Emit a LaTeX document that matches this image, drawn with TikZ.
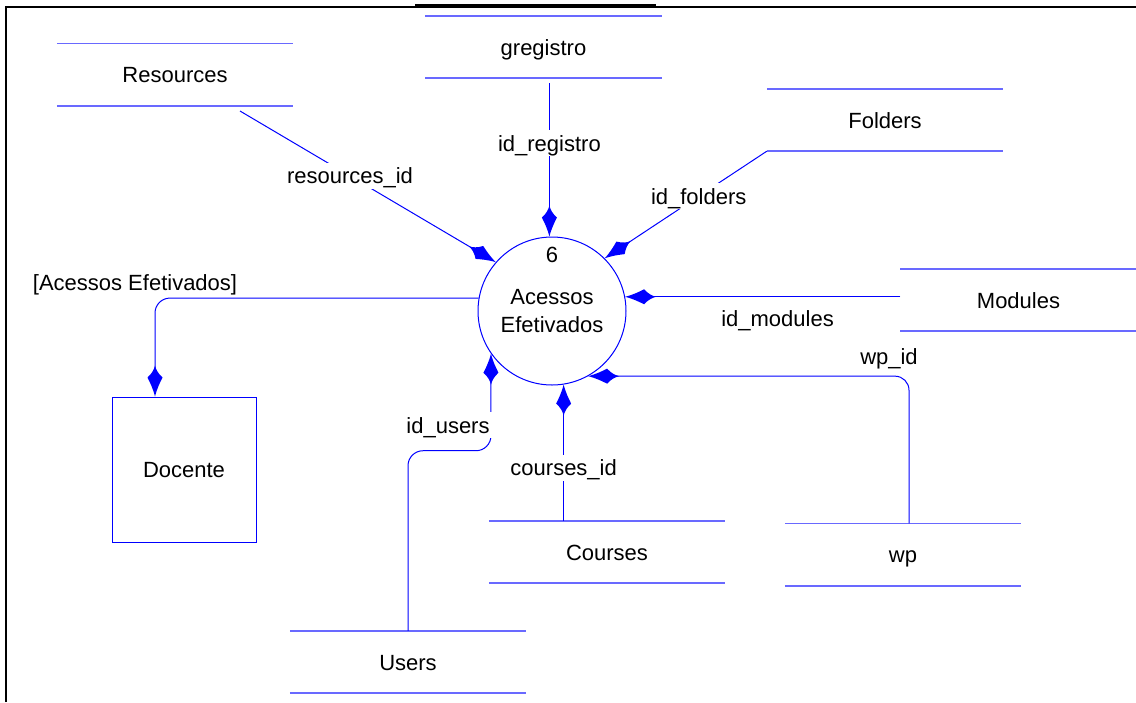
\documentclass[tikz,border=0pt]{standalone}
\usepackage{fontspec}
\setmainfont{Liberation Sans}
\usetikzlibrary{arrows.meta}
\definecolor{flowblue}{RGB}{0,0,255}
\definecolor{storeblue}{RGB}{105,105,255}

% barbed arrow head with concave sides, widest a third of the way from the back
\pgfdeclarearrow{
  name=Barb,
  setup code={
    \pgfarrowssettipend{0pt}
    \pgfarrowssetbackend{-31pt}
    \pgfarrowssetlineend{-18pt}
    \pgfarrowshullpoint{0pt}{0pt}
    \pgfarrowshullpoint{-31pt}{0pt}
    \pgfarrowsupperhullpoint{-19pt}{7.5pt}
  },
  drawing code={
    \pgfpathmoveto{\pgfpoint{0pt}{0pt}}
    \pgfpathcurveto{\pgfpoint{-8pt}{2pt}}{\pgfpoint{-14pt}{5pt}}{\pgfpoint{-19pt}{7.5pt}}
    \pgfpathcurveto{\pgfpoint{-23pt}{3pt}}{\pgfpoint{-27pt}{1pt}}{\pgfpoint{-31pt}{0pt}}
    \pgfpathcurveto{\pgfpoint{-27pt}{-1pt}}{\pgfpoint{-23pt}{-3pt}}{\pgfpoint{-19pt}{-7.5pt}}
    \pgfpathcurveto{\pgfpoint{-14pt}{-5pt}}{\pgfpoint{-8pt}{-2pt}}{\pgfpoint{0pt}{0pt}}
    \pgfpathclose
    \pgfusepathqfill
  },
  defaults={}
}

\begin{document}
\begin{tikzpicture}[x=1pt,y=-1pt,
  every node/.style={font=\fontsize{22}{28}\selectfont, text=black, inner sep=1pt},
  txt/.style={text height=16pt, text depth=0pt},
  store/.style={txt, minimum width=236pt, minimum height=62pt, inner sep=0pt},
  storeline/.style={draw=storeblue, line width=1.6pt},
  flow/.style={draw=flowblue, line width=1pt, -{Barb}},
  tag/.style={txt, fill=white, inner xsep=2pt, inner ysep=5pt},
  proc/.style={circle, draw=flowblue, line width=1pt, minimum size=148pt, inner sep=0pt, align=center},
  ent/.style={txt, rectangle, draw=flowblue, line width=1pt, minimum width=144pt, minimum height=145pt}]
\useasboundingbox (0,0) rectangle (1136,702);

% page frame
\draw[line width=2pt] (6,702) -- (6,7) -- (1136,7);
\draw[line width=2.5pt] (415,5) -- (656,5);

% data stores
\node[store] (res)  at (175,74.5)  {Resources};
\node[store] (greg) at (543.5,47)  {gregistro};
\node[store] (fold) at (885,120)   {Folders};
\node[store] (mod)  at (1018.5,300){Modules};
\node[store] (wp)   at (903,554.5) {wp};
\node[store] (crs)  at (607,552)   {Courses};
\node[store] (usr)  at (408,662)   {Users};
\foreach \s in {res,greg,fold,mod,wp,crs,usr}
  \draw[storeline] (\s.north west) -- (\s.north east)
                   (\s.south west) -- (\s.south east);

% process and external entity
\node[proc] (p6) at (552,311) {Acessos\\Efetivados};
\node (p6num) at ([yshift=56pt]p6.center) {6};
\node[ent] (doc) at (184,469.5) {Docente};

% flows into the process
\coordinate (resout) at (240,111);
\draw[flow] (resout) -- node[tag, pos=0.43] {resources\_id} (p6.139);

\coordinate (gregout) at ([yshift=-5pt]greg.south);
\draw[flow] (gregout -| p6.92) -- node[tag, pos=0.39] {id\_registro} (p6.92);

\draw[flow] (fold.south west) -- node[tag, pos=0.42] {id\_folders} (p6.45);

\draw[flow] (mod.west |- p6.11) -- node[txt, pos=0.446, yshift=-22pt] {id\_modules} (p6.11);

\draw[flow, rounded corners=14pt] ([xshift=6pt]wp.north) |- (p6.-61);
\node[txt] (wplbl) at (889,356) {wp\_id};

\draw[flow] (crs.north -| p6.-81) -- node[tag, pos=0.39] {courses\_id} (p6.-81);

\coordinate (ubend) at ([yshift=-97pt]p6.215);
\draw[flow, rounded corners=15pt] (usr.north) |- (ubend) -- (p6.215);
\node[tag] (usrlbl) at (448,425) {id\_users};

% flow out to the entity
\draw[flow, rounded corners=15pt] (p6.170) -| ([xshift=-29pt]doc.north);
\node[txt] (doclbl) at (135,282) {[Acessos Efetivados]};
\end{tikzpicture}
\end{document}
